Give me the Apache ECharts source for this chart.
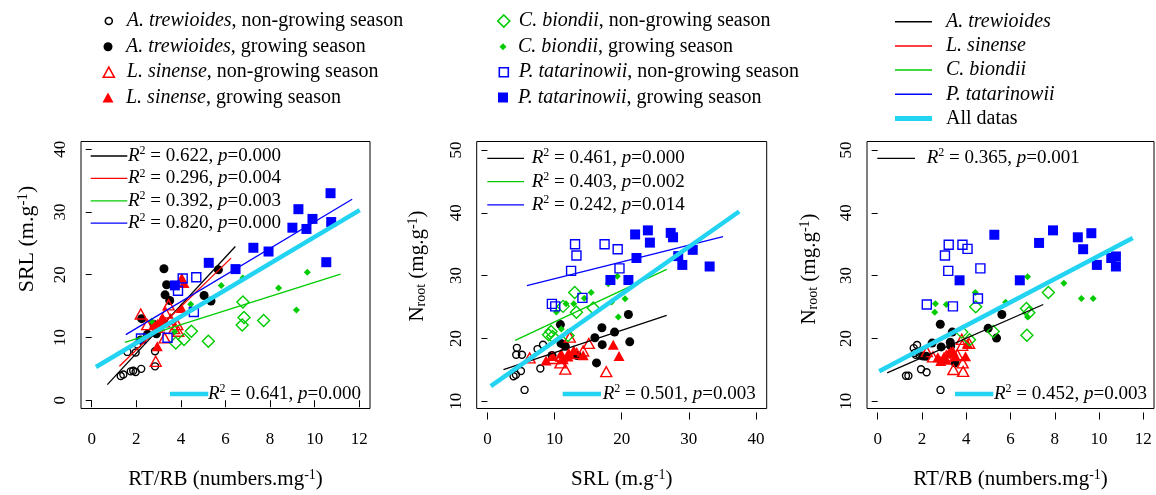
<!DOCTYPE html>
<html><head><meta charset="utf-8">
<script src="https://cdn.jsdelivr.net/npm/echarts@6/dist/echarts.min.js"></script>
<style>html,body{margin:0;padding:0;background:#fff}#c{width:1156px;height:495px}</style>
</head><body><div id="c"></div>
<script>
// ---------------- DATA ----------------
// Panel 1: x = RT/RB, y = SRL
const p1_at_ng = [[1.3,3.85],[1.42,4.1],[1.75,4.6],[1.86,4.7],[1.97,4.5],[2.22,5.0],[2.84,5.4],[2.84,7.8],[1.6,7.7],[1.97,7.6],[2.05,8.9]];
const p1_at_g  = [[3.24,20.95],[3.36,18.4],[3.29,16.8],[3.5,15.9],[5.04,16.7],[5.35,15.8],[5.68,20.8],[2.24,13.0],[2.79,12.05],[2.5,10.5],[2.9,10.6],[2.2,9.6]];
const p1_ls_ng = [[2.2,13.75],[2.49,12.05],[2.87,6.2],[3.32,13.9],[3.54,12.85],[3.84,12.05],[3.88,11.0],[3.27,9.93],[3.7,11.4],[3.45,15.2],[2.95,11.6]];
const p1_ls_g  = [[4.04,19.5],[4.14,18.7],[4.02,14.7],[2.94,8.6],[2.95,12.2],[3.1,12.7],[3.2,13.0],[3.3,12.4],[3.05,11.8],[2.8,12.1]];
const p1_cb_ng = [[3.77,9.13],[4.14,9.66],[4.47,11.0],[5.23,9.4],[6.78,15.65],[6.83,13.2],[6.75,12.0],[7.71,12.7]];
const p1_cb_g  = [[4.44,15.3],[5.81,18.3],[6.78,19.5],[8.38,17.9],[9.67,20.4],[9.18,14.4],[3.72,10.9],[2.69,12.6]];
const p1_pt_ng = [[4.08,19.4],[4.69,19.6],[3.87,17.45],[4.58,14.06],[3.4,9.95],[2.21,9.85]];
const p1_pt_g  = [[10.71,33.0],[9.27,30.45],[9.0,27.5],[9.9,28.9],[9.63,27.3],[10.74,28.4],[10.52,22.0],[7.93,23.7],[7.25,24.3],[5.25,21.9],[6.45,20.9],[3.73,18.3]];
// Panel 2: x = SRL, y = Nroot
const p2_at_ng = [[4.39,18.5],[4.29,17.4],[5.14,17.4],[3.89,13.97],[4.24,14.2],[4.99,14.8],[5.53,11.8],[7.47,18.3],[8.28,19.0],[7.88,15.2]];
const p2_at_g  = [[10.87,22.2],[10.96,19.2],[11.6,18.75],[9.62,17.27],[13.36,17.27],[16.0,20.1],[17.05,21.7],[17.1,19.0],[18.94,21.0],[21.0,23.8],[21.2,19.45],[16.25,16.1]];
const p2_ls_ng = [[6.28,16.9],[9.8,16.8],[12.26,20.2],[10.87,16.1],[11.6,15.1],[15.1,19.2],[14.26,18.0],[17.7,14.7],[13.3,17.6],[11.0,17.2]];
const p2_ls_g  = [[8.73,16.5],[9.62,17.2],[10.97,17.6],[11.3,16.7],[12.1,17.7],[12.86,18.1],[12.0,17.1],[14.26,17.3],[18.74,19.0],[19.6,17.2]];
const p2_cb_ng = [[13.0,27.3],[11.27,25.1],[13.26,24.15],[15.75,24.85],[9.47,21.1],[9.1,20.6],[9.7,20.3],[12.0,20.45]];
const p2_cb_g  = [[10.27,24.2],[11.7,25.5],[12.86,25.5],[14.43,26.4],[15.45,27.3],[18.0,28.7],[19.34,29.9],[18.5,25.8],[20.5,26.3],[19.5,23.4],[11.0,21.5]];
const p2_pt_ng = [[13.05,35.0],[13.26,33.2],[12.46,30.75],[17.45,35.0],[19.4,34.2],[19.67,31.15],[9.6,25.5],[10.1,25.1],[14.15,26.45]];
const p2_pt_g  = [[22.0,36.55],[23.9,37.2],[24.2,35.25],[27.3,36.8],[27.65,36.1],[22.2,32.8],[18.32,29.3],[21.0,29.3],[28.42,33.1],[30.58,34.1],[29.03,31.7],[33.1,31.45]];
// Panel 3: x = RT/RB, y = Nroot
const p3_at_ng = [[1.28,14.05],[1.39,14.05],[1.63,18.45],[1.78,18.95],[1.72,17.4],[1.96,15.1],[2.21,14.6],[2.84,11.8],[1.9,17.3],[1.68,17.7]];
const p3_at_g  = [[2.83,22.25],[3.37,21.0],[3.28,19.4],[2.87,18.65],[2.46,19.25],[2.19,17.15],[3.5,16.1],[4.99,21.6],[5.37,20.05],[5.61,23.8],[3.3,18.8],[2.05,17.2]];
const p3_ls_ng = [[2.22,17.9],[2.5,17.05],[3.8,19.85],[3.82,18.9],[4.13,19.2],[3.6,17.4],[3.84,16.1],[3.42,15.05],[3.86,14.75],[3.1,17.2]];
const p3_ls_g  = [[2.85,16.4],[3.0,17.1],[3.2,17.6],[3.3,17.9],[2.72,17.0],[3.52,17.15],[3.97,17.15],[4.05,19.2],[3.1,16.6],[3.4,18.0]];
const p3_cb_ng = [[4.43,25.05],[3.8,21.0],[4.15,19.8],[5.22,21.1],[6.72,24.75],[6.83,24.1],[6.74,20.5],[7.71,27.3]];
const p3_cb_g  = [[2.61,25.5],[2.58,24.15],[3.1,25.4],[4.41,27.3],[5.78,25.75],[6.77,29.82],[8.41,28.8],[9.2,26.35],[9.73,26.35],[6.77,23.4]];
const p3_pt_ng = [[3.04,33.2],[3.21,34.9],[3.83,34.9],[4.06,34.25],[3.19,30.75],[4.64,31.15],[4.53,26.35],[2.22,25.4],[3.4,25.1]];
const p3_pt_g  = [[5.27,36.5],[7.92,37.2],[7.29,35.2],[9.04,36.1],[9.65,36.75],[9.28,34.2],[9.9,31.7],[10.55,32.8],[10.76,33.05],[10.76,31.45],[3.7,29.25],[6.42,29.25]];

// Regression line end points
const p1_fit_at = [[0.70,2.49],[6.44,24.5]];
const p1_fit_ls = [[1.24,5.41],[6.25,22.65]];
const p1_fit_cb = [[1.49,9.23],[11.16,20.1]];
const p1_fit_pt = [[1.53,10.45],[11.68,32.04]];
const p1_fit_all = [[0.19,5.3],[12.02,30.3]];
const p2_fit_at = [[2.39,15.03],[26.7,23.67]];
const p2_fit_cb = [[4.13,19.7],[26.7,31.0]];
const p2_fit_pt = [[5.88,28.4],[35.1,36.2]];
const p2_fit_all = [[0.5,12.4],[37.5,40.2]];
const p3_fit_at = [[0.43,14.5],[7.48,25.4]];
const p3_fit_all = [[0.07,14.77],[11.52,36.0]];

// Statistics text [R2, p]
const p1_stats = [['0.622','0.000'],['0.296','0.004'],['0.392','0.003'],['0.820','0.000']];
const p1_stat_all = ['0.641','0.000'];
const p2_stats = [['0.461','0.000'],['0.403','0.002'],['0.242','0.014']];
const p2_stat_all = ['0.501','0.003'];
const p3_stats = [['0.365','0.001']];
const p3_stat_all = ['0.452','0.003'];

// Axis ticks
const ticksRT = [0,2,4,6,8,10,12];
const ticksSRLx = [0,10,20,30,40];
const ticksSRLy = [0,10,20,30,40];
const ticksN = [10,20,30,40,50];

const species = ['A. trewioides','L. sinense','C. biondii','P. tatarinowii'];
const seasons = ['non-growing season','growing season'];

// ---------------- STYLE / LAYOUT ----------------
const FONT = 'Liberation Serif';
const COLORS = {at:'#000000', ls:'#ff0000', cb:'#00cc00', pt:'#0000ff', all:'#22d3f2'};
const KEYS = ['at','ls','cb','pt'];
const SYM = {
  at:[{symbol:'circle',size:7,hollow:true},{symbol:'circle',size:9,hollow:false}],
  ls:[{symbol:'triangle',size:[11,10],hollow:true},{symbol:'triangle',size:[11,10],hollow:false}],
  cb:[{symbol:'diamond',size:12,hollow:true},{symbol:'diamond',size:7,hollow:false}],
  pt:[{symbol:'rect',size:9,hollow:true},{symbol:'rect',size:10,hollow:false}]
};
const grids = [
  {left:81, top:141.5, width:289, height:267.5},
  {left:476.7, top:141.5, width:290, height:267.5},
  {left:867, top:141.5, width:287, height:267.5}
];
const panelData = [
  {at:[p1_at_ng,p1_at_g], ls:[p1_ls_ng,p1_ls_g], cb:[p1_cb_ng,p1_cb_g], pt:[p1_pt_ng,p1_pt_g]},
  {at:[p2_at_ng,p2_at_g], ls:[p2_ls_ng,p2_ls_g], cb:[p2_cb_ng,p2_cb_g], pt:[p2_pt_ng,p2_pt_g]},
  {at:[p3_at_ng,p3_at_g], ls:[p3_ls_ng,p3_ls_g], cb:[p3_cb_ng,p3_cb_g], pt:[p3_pt_ng,p3_pt_g]}
];
const panelFits = [
  [['at',p1_fit_at],['ls',p1_fit_ls],['cb',p1_fit_cb],['pt',p1_fit_pt],['all',p1_fit_all]],
  [['at',p2_fit_at],['cb',p2_fit_cb],['pt',p2_fit_pt],['all',p2_fit_all]],
  [['at',p3_fit_at],['all',p3_fit_all]]
];
const panelStats = [
  {rows:[['at',p1_stats[0]],['ls',p1_stats[1]],['cb',p1_stats[2]],['pt',p1_stats[3]]], all:p1_stat_all,
   lx1:9.7, lx2:46.3, tx:47, ry0:14.5, rdy:22.4, bx1:89, bx2:127.3, btx:127},
  {rows:[['at',p2_stats[0]],['cb',p2_stats[1]],['pt',p2_stats[2]]], all:p2_stat_all,
   lx1:10.6, lx2:47.3, tx:55, ry0:16.8, rdy:23.3, bx1:86, bx2:124.3, btx:126},
  {rows:[['at',p3_stats[0]]], all:p3_stat_all,
   lx1:10.3, lx2:48, tx:59.7, ry0:16.8, rdy:23.3, bx1:88, bx2:126.3, btx:127}
];

function makeRich(fs){
  const sub = Math.round(fs * 0.67);
  return {
    n: {fontFamily:FONT, fontSize:fs, color:'#000', lineHeight:fs + 1},
    s: {fontFamily:FONT, fontSize:sub, color:'#000', lineHeight:sub, verticalAlign:'top'},
    b: {fontFamily:FONT, fontSize:sub, color:'#000', lineHeight:sub, verticalAlign:'bottom'}
  };
}
const nameSRL = '{n|SRL (m.g}{s|-1}{n|)}';
const nameRT = '{n|RT/RB (numbers.mg}{s|-1}{n|)}';
const nameN = '{n|N}{b|root}{n| (mg.g}{s|-1}{n|)}';

function xAxis(i, min, max, ticks, name){
  return {gridIndex:i, type:'value', min, max, offset:4,
    axisLine:{show:false}, splitLine:{show:false},
    axisTick:{show:true, length:7, lineStyle:{color:'#000', width:1}, customValues:ticks},
    axisLabel:{show:true, customValues:ticks, margin:19, color:'#000', fontFamily:FONT, fontSize:17},
    name, nameLocation:'middle', nameGap:56, nameTextStyle:{rich:makeRich(21)}};
}
// shift: moves the rotated title upwards by shift px (via start padding)
function yAxis(i, min, max, ticks, name, gap, fs, shift){
  return {gridIndex:i, type:'value', min, max, offset:2,
    axisLine:{show:false}, splitLine:{show:false},
    axisTick:{show:true, length:6, lineStyle:{color:'#000', width:1}, customValues:ticks},
    axisLabel:{show:true, customValues:ticks, rotate:90, margin:10, color:'#000', fontFamily:FONT, fontSize:17},
    name, nameLocation:'middle', nameGap:gap, nameRotate:90,
    nameTextStyle:{rich:makeRich(fs), padding:[0,0,0,shift*2]}};
}

const series = [];
panelData.forEach((pd, i) => {
  KEYS.forEach((k, si) => {
    [0,1].forEach(s => {
      const sy = SYM[k][s];
      series.push({
        type:'scatter', name: species[si] + ', ' + seasons[s], xAxisIndex:i, yAxisIndex:i,
        data: pd[k][s], symbol: sy.symbol, symbolSize: sy.size, silent:true, z:2,
        itemStyle: sy.hollow ? {color:'rgba(0,0,0,0)', borderColor:COLORS[k], borderWidth:1.4, opacity:1}
                             : {color:COLORS[k], borderWidth:0, opacity:1}
      });
    });
  });
});
panelFits.forEach((fits, i) => {
  fits.forEach(([k, d]) => {
    series.push({
      type:'line', name: k==='all' ? 'All datas' : species[KEYS.indexOf(k)],
      xAxisIndex:i, yAxisIndex:i, data:d, symbol:'none', showSymbol:false, silent:true,
      z: k==='all' ? 4 : 3,
      lineStyle:{color:COLORS[k], width: k==='all' ? 4.5 : 1.3},
      itemStyle:{color:COLORS[k]}
    });
  });
});

// graphic: in-panel statistics legends
const graphic = [];
function statText(r2, p){
  return '{r|R}{s|2}{n| = ' + r2 + ', }{r|p}{n|=' + p + '}';
}
const statRich = {
  r:{fontFamily:FONT, fontSize:19, fontStyle:'italic', fill:'#000', lineHeight:22},
  n:{fontFamily:FONT, fontSize:19, fill:'#000', lineHeight:22},
  s:{fontFamily:FONT, fontSize:12, fill:'#000', lineHeight:12, verticalAlign:'top'}
};
panelStats.forEach((ps, i) => {
  const g = grids[i];
  ps.rows.forEach(([k, st], r) => {
    const y = g.top + ps.ry0 + r * ps.rdy;
    graphic.push({type:'line', silent:true, z:10, shape:{x1:g.left+ps.lx1, y1:y, x2:g.left+ps.lx2, y2:y},
      style:{stroke:COLORS[k], lineWidth:1.3}});
    graphic.push({type:'text', silent:true, z:10, x:g.left+ps.tx, y:y,
      style:{text:statText(st[0], st[1]), rich:statRich, fontFamily:FONT, fontSize:19, fill:'#000', verticalAlign:'middle', align:'left'}});
  });
  const yb = g.top + g.height - 15;
  graphic.push({type:'line', silent:true, z:10, shape:{x1:g.left+ps.bx1, y1:yb, x2:g.left+ps.bx2, y2:yb},
    style:{stroke:COLORS.all, lineWidth:4.5}});
  graphic.push({type:'text', silent:true, z:10, x:g.left+ps.btx, y:yb,
    style:{text:statText(ps.all[0], ps.all[1]), rich:statRich, fontFamily:FONT, fontSize:19, fill:'#000', verticalAlign:'middle', align:'left'}});
});

// legends
const legTextBase = {fontFamily:FONT, fontSize:20, color:'#000', lineHeight:20,
  rich:{i:{fontFamily:FONT, fontSize:20, fontStyle:'italic', color:'#000', lineHeight:20}}};
function markerFormatter(name){
  const idx = name.indexOf(', ');
  return '{i|' + name.slice(0, idx) + '}' + name.slice(idx);
}
const legendRows = [21, 46.7, 72.2, 97.5];
const legends = [];
const cols = [{keys:['at','ls'], cx:108, tx:126}, {keys:['cb','pt'], cx:503, tx:518}];
cols.forEach(col => {
  col.keys.forEach((k, ki) => {
    [0,1].forEach(s => {
      const row = ki*2 + s;
      const sy = SYM[k][s];
      const sz = Array.isArray(sy.size) ? sy.size : [sy.size, sy.size];
      const w = sz[0], h = sz[1];
      const left = col.cx - w/2;
      const pad = col.tx - (left + w + 5);
      legends.push({
        show:true, orient:'vertical', left:left, top: legendRows[row] - 10, padding:0,
        itemWidth:w, itemHeight:h, selectedMode:false, icon: sy.symbol,
        data:[species[KEYS.indexOf(k)] + ', ' + seasons[s]],
        formatter: markerFormatter,
        itemStyle: sy.hollow ? {color:'rgba(0,0,0,0)', borderColor:COLORS[k], borderWidth:1.6}
                             : {color:COLORS[k], borderWidth:0},
        textStyle: Object.assign({padding:[0,0,0,pad]}, legTextBase)
      });
    });
  });
});
// line legends: one component per line so each icon gets its own colour and thickness
const lineLegendRows = [21.7, 45.9, 70.1, 94.3, 118.5];
const lineLegendItems = species.map((s, i) => ({name:s, color:COLORS[KEYS[i]], w:1.5, italic:true}))
  .concat([{name:'All datas', color:COLORS.all, w:5, italic:false}]);
lineLegendItems.forEach((it, r) => {
  legends.push({
    show:true, orient:'vertical', left:895, top:lineLegendRows[r] - 10, padding:0,
    itemWidth:37, itemHeight:it.w, icon:'rect', selectedMode:false, data:[it.name],
    formatter: it.italic ? (n => '{i|' + n + '}') : (n => n),
    itemStyle:{color:it.color, borderWidth:0},
    textStyle: Object.assign({padding:[0,0,0,9]}, legTextBase)
  });
});

const option = {
  backgroundColor:'#fff',
  animation:false,
  textStyle:{fontFamily:FONT},
  grid: grids.map(g => Object.assign({show:true, borderColor:'#000', borderWidth:1, backgroundColor:'rgba(0,0,0,0)'}, g)),
  xAxis:[xAxis(0,-0.48,12.48,ticksRT,nameRT), xAxis(1,-1.6,41.6,ticksSRLx,nameSRL), xAxis(2,-0.48,12.48,ticksRT,nameRT)],
  yAxis:[yAxis(0,-1.32,41.24,ticksSRLy,nameSRL,40,22,36),
         yAxis(1,8.84,51.35,ticksN,nameN,46,21,9),
         yAxis(2,8.84,51.35,ticksN,nameN,45,21,6)],
  legend: legends,
  series,
  graphic
};
const chart = echarts.init(document.getElementById('c'));
chart.setOption(option);
</script></body></html>
